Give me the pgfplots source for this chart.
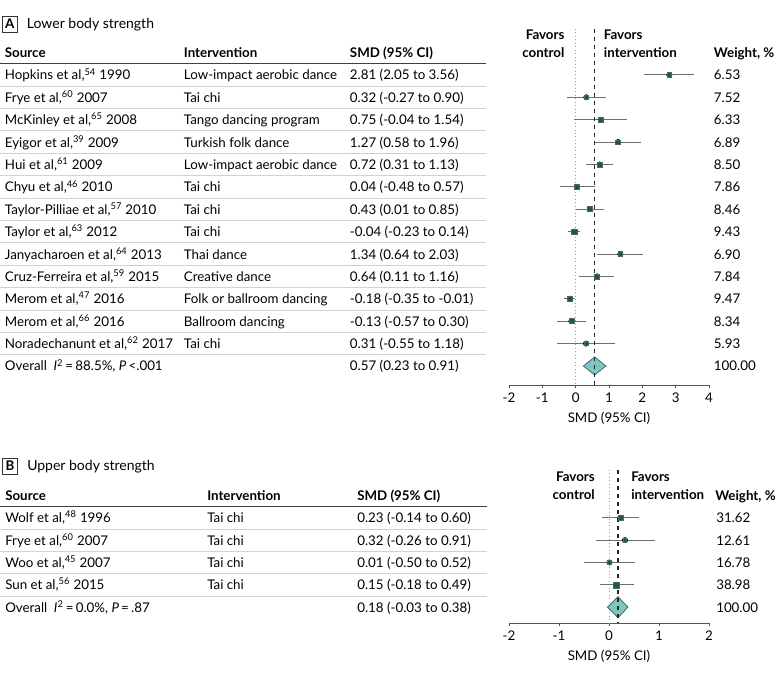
\documentclass[border=0pt]{standalone}
\usepackage{pgfplots}
\pgfplotsset{compat=1.18}
\usepackage{pgfplotstable}
\usepackage{fontspec}
\setmainfont{Lato}
\definecolor{mk}{HTML}{25524E}
\definecolor{dia}{HTML}{7EC4C1}
\definecolor{diaedge}{HTML}{2F5E5A}
\definecolor{sep}{HTML}{D2D2D2}
\definecolor{ci}{HTML}{6E6E6E}
\definecolor{axg}{HTML}{555555}
\newcommand{\tf}{\fontsize{10}{12}\selectfont}

% row (negative index), estimate, error plus, error minus, marker size (pt)
\pgfplotstableread{
row est ep em ms
-1 2.81 0.75 0.76 1.66
-2 0.32 0.58 0.59 1.78
-3 0.75 0.79 0.79 1.64
-4 1.27 0.69 0.69 1.71
-5 0.72 0.41 0.41 1.90
-6 0.04 0.53 0.52 1.82
-7 0.43 0.42 0.42 1.89
-8 -0.04 0.18 0.19 2.00
-9 1.34 0.69 0.70 1.71
-10 0.64 0.52 0.53 1.82
-11 -0.18 0.17 0.17 2.00
-12 -0.13 0.43 0.44 1.88
-13 0.31 0.87 0.86 1.58
}\dataA
\pgfplotstableread{
row est ep em ms
-1 0.23 0.37 0.37 2.02
-2 0.32 0.59 0.58 1.28
-3 0.01 0.51 0.51 1.47
-4 0.15 0.34 0.33 2.25
}\dataB

\pgfplotsset{
  forest/.style={
    scale only axis, anchor=south west, clip=false,
    axis y line=none, axis x line*=bottom,
    x axis line style={draw=axg, -, line width=0.6pt},
    xtick style={draw=axg, line width=0.6pt},
    tick align=outside, major tick length=2.4pt,
    tick label style={font=\tf},
    label style={font=\tf},
    xlabel={SMD (95\% CI)},
  },
  cibars/.style={only marks, mark=none, forget plot,
    error bars/.cd, x dir=both, x explicit,
    error bar style={draw=ci, line width=0.7pt, solid},
    error mark=none},
  sqmarks/.style={only marks, mark=square*, scatter,
    scatter/use mapped color={draw=mk!85!white, fill=mk},
    visualization depends on={\thisrow{ms} \as \msz},
    scatter/@pre marker code/.append style={/tikz/mark size=\msz pt},
    point meta=\thisrow{ms}},
}
\tikzset{
  tx/.style={anchor=west, inner sep=0pt, text height=7.5pt, text depth=0pt, font=\tf},
  hd/.style={tx, font=\tf\bfseries},
}

\begin{document}
\begin{tikzpicture}
\useasboundingbox (0pt,0pt) rectangle (585pt,-505.5pt);

% ---------------- Panel A ----------------
\begin{axis}[forest,
  at={(381.75pt,-288.75pt)}, width=150pt, height=267pt,
  xmin=-2, xmax=4, ymin=-14.85, ymax=1.05,
  xtick={-2,-1,0,1,2,3,4}, xticklabels={-2,-1,0,1,2,3,4},
]
\addplot[dotted, draw=gray!80, line width=0.6pt, forget plot] coordinates {(0,1.05) (0,-14.85)};
\addplot[cibars] table[x=est, y=row, x error plus=ep, x error minus=em] {\dataA};
\addplot[sqmarks] table[x=est, y=row] {\dataA};
\addplot[fill=dia, draw=diaedge, line width=0.5pt] coordinates {(0.23,-14) (0.57,-13.6) (0.91,-14) (0.57,-14.4)} -- cycle;
\addplot[dashed, draw=black!85, line width=0.8pt, forget plot] coordinates {(0.57,1.05) (0.57,-14.85)};

% panel title
\node[draw=black!80, line width=0.5pt, minimum width=11pt, minimum height=12pt, inner sep=0pt, font=\tf\bfseries] at (axis cs:-16.98,1.28) {A};
\node[tx, font=\fontsize{10.5}{12}\selectfont] at (axis cs:-16.47,1.28) {Lower body strength};

% favors
\node[anchor=east, align=right, inner sep=0pt, font=\fontsize{10}{13.5}\selectfont\bfseries] at (axis cs:-0.33,0.38) {Favors\\control};
\node[anchor=west, align=left, inner sep=0pt, font=\fontsize{10}{13.5}\selectfont\bfseries] at (axis cs:0.84,0.38) {Favors\\intervention};

% headers
\node[hd] at (axis cs:-17.13,0) {Source};
\node[hd] at (axis cs:-11.76,0) {Intervention};
\node[hd] at (axis cs:-6.78,0) {SMD (95\% CI)};
\node[hd] at (axis cs:4.14,0) {Weight, \%};

% separators
\draw[black!75, line width=0.9pt] (axis cs:-17.28,-0.5) -- (axis cs:-2.70,-0.5);
\pgfplotsinvokeforeach{1.5,2.5,3.5,4.5,5.5,6.5,7.5,8.5,9.5,10.5,11.5,12.5,13.5}{\draw[sep, line width=0.6pt] (axis cs:-17.28,-#1) -- (axis cs:-2.70,-#1);}

% rows
\node[tx] at (axis cs:-17.13,-1) {Hopkins et al,\textsuperscript{54} 1990};
\node[tx] at (axis cs:-17.13,-2) {Frye et al,\textsuperscript{60} 2007};
\node[tx] at (axis cs:-17.13,-3) {McKinley et al,\textsuperscript{65} 2008};
\node[tx] at (axis cs:-17.13,-4) {Eyigor et al,\textsuperscript{39} 2009};
\node[tx] at (axis cs:-17.13,-5) {Hui et al,\textsuperscript{61} 2009};
\node[tx] at (axis cs:-17.13,-6) {Chyu et al,\textsuperscript{46} 2010};
\node[tx] at (axis cs:-17.13,-7) {Taylor-Pilliae et al,\textsuperscript{57} 2010};
\node[tx] at (axis cs:-17.13,-8) {Taylor et al,\textsuperscript{63} 2012};
\node[tx] at (axis cs:-17.13,-9) {Janyacharoen et al,\textsuperscript{64} 2013};
\node[tx] at (axis cs:-17.13,-10) {Cruz-Ferreira et al,\textsuperscript{59} 2015};
\node[tx] at (axis cs:-17.13,-11) {Merom et al,\textsuperscript{47} 2016};
\node[tx] at (axis cs:-17.13,-12) {Merom et al,\textsuperscript{66} 2016};
\node[tx] at (axis cs:-17.13,-13) {Noradechanunt et al,\textsuperscript{62} 2017};
\node[tx] at (axis cs:-17.13,-14) {Overall\enspace\textit{I}\textsuperscript{2}\,=\,88.5\%, \textit{P}\,<.001};

\node[tx] at (axis cs:-11.76,-1) {Low-impact aerobic dance};
\node[tx] at (axis cs:-11.76,-2) {Tai chi};
\node[tx] at (axis cs:-11.76,-3) {Tango dancing program};
\node[tx] at (axis cs:-11.76,-4) {Turkish folk dance};
\node[tx] at (axis cs:-11.76,-5) {Low-impact aerobic dance};
\node[tx] at (axis cs:-11.76,-6) {Tai chi};
\node[tx] at (axis cs:-11.76,-7) {Tai chi};
\node[tx] at (axis cs:-11.76,-8) {Tai chi};
\node[tx] at (axis cs:-11.76,-9) {Thai dance};
\node[tx] at (axis cs:-11.76,-10) {Creative dance};
\node[tx] at (axis cs:-11.76,-11) {Folk or ballroom dancing};
\node[tx] at (axis cs:-11.76,-12) {Ballroom dancing};
\node[tx] at (axis cs:-11.76,-13) {Tai chi};

\node[tx] at (axis cs:-6.78,-1) {2.81 (2.05 to 3.56)};
\node[tx] at (axis cs:-6.78,-2) {0.32 (-0.27 to 0.90)};
\node[tx] at (axis cs:-6.78,-3) {0.75 (-0.04 to 1.54)};
\node[tx] at (axis cs:-6.78,-4) {1.27 (0.58 to 1.96)};
\node[tx] at (axis cs:-6.78,-5) {0.72 (0.31 to 1.13)};
\node[tx] at (axis cs:-6.78,-6) {0.04 (-0.48 to 0.57)};
\node[tx] at (axis cs:-6.78,-7) {0.43 (0.01 to 0.85)};
\node[tx] at (axis cs:-6.78,-8) {-0.04 (-0.23 to 0.14)};
\node[tx] at (axis cs:-6.78,-9) {1.34 (0.64 to 2.03)};
\node[tx] at (axis cs:-6.78,-10) {0.64 (0.11 to 1.16)};
\node[tx] at (axis cs:-6.78,-11) {-0.18 (-0.35 to -0.01)};
\node[tx] at (axis cs:-6.78,-12) {-0.13 (-0.57 to 0.30)};
\node[tx] at (axis cs:-6.78,-13) {0.31 (-0.55 to 1.18)};
\node[tx] at (axis cs:-6.78,-14) {0.57 (0.23 to 0.91)};

\node[tx] at (axis cs:4.14,-1) {6.53};
\node[tx] at (axis cs:4.14,-2) {7.52};
\node[tx] at (axis cs:4.14,-3) {6.33};
\node[tx] at (axis cs:4.14,-4) {6.89};
\node[tx] at (axis cs:4.14,-5) {8.50};
\node[tx] at (axis cs:4.14,-6) {7.86};
\node[tx] at (axis cs:4.14,-7) {8.46};
\node[tx] at (axis cs:4.14,-8) {9.43};
\node[tx] at (axis cs:4.14,-9) {6.90};
\node[tx] at (axis cs:4.14,-10) {7.84};
\node[tx] at (axis cs:4.14,-11) {9.47};
\node[tx] at (axis cs:4.14,-12) {8.34};
\node[tx] at (axis cs:4.14,-13) {5.93};
\node[tx] at (axis cs:4.14,-14) {100.00};
\end{axis}

% ---------------- Panel B ----------------
\begin{axis}[forest,
  at={(381.75pt,-467.25pt)}, width=150pt, height=114.75pt,
  xmin=-2, xmax=2, ymin=-5.71, ymax=1.14,
  xtick={-2,-1,0,1,2}, xticklabels={-2,-1,0,1,2},
]
\addplot[dotted, draw=gray!80, line width=0.6pt, forget plot] coordinates {(0,1.14) (0,-5.71)};
\addplot[cibars] table[x=est, y=row, x error plus=ep, x error minus=em] {\dataB};
\addplot[sqmarks] table[x=est, y=row] {\dataB};
\addplot[fill=dia, draw=diaedge, line width=0.5pt] coordinates {(-0.03,-5) (0.18,-4.53) (0.38,-5) (0.18,-5.47)} -- cycle;
\addplot[dashed, draw=black!85, line width=0.8pt, forget plot] coordinates {(0.18,1.14) (0.18,-5.71)};

\node[draw=black!80, line width=0.5pt, minimum width=11pt, minimum height=12pt, inner sep=0pt, font=\tf\bfseries] at (axis cs:-11.98,1.32) {B};
\node[tx, font=\fontsize{10.5}{12}\selectfont] at (axis cs:-11.64,1.32) {Upper body strength};

\node[anchor=east, align=right, inner sep=0pt, font=\fontsize{10}{13.5}\selectfont\bfseries] at (axis cs:-0.28,0.43) {Favors\\control};
\node[anchor=west, align=left, inner sep=0pt, font=\fontsize{10}{13.5}\selectfont\bfseries] at (axis cs:0.44,0.43) {Favors\\intervention};

\node[hd] at (axis cs:-12.08,0) {Source};
\node[hd] at (axis cs:-8.04,0) {Intervention};
\node[hd] at (axis cs:-5.04,0) {SMD (95\% CI)};
\node[hd] at (axis cs:2.12,0) {Weight, \%};

\draw[black!75, line width=0.9pt] (axis cs:-12.18,-0.5) -- (axis cs:-2.44,-0.5);
\pgfplotsinvokeforeach{1.5,2.5,3.5,4.5}{\draw[sep, line width=0.6pt] (axis cs:-12.18,-#1) -- (axis cs:-2.44,-#1);}

\node[tx] at (axis cs:-12.08,-1) {Wolf et al,\textsuperscript{48} 1996};
\node[tx] at (axis cs:-12.08,-2) {Frye et al,\textsuperscript{60} 2007};
\node[tx] at (axis cs:-12.08,-3) {Woo et al,\textsuperscript{45} 2007};
\node[tx] at (axis cs:-12.08,-4) {Sun et al,\textsuperscript{56} 2015};
\node[tx] at (axis cs:-12.08,-5) {Overall\enspace\textit{I}\textsuperscript{2}\,=\,0.0\%, \textit{P}\,=\,.87};

\node[tx] at (axis cs:-8.04,-1) {Tai chi};
\node[tx] at (axis cs:-8.04,-2) {Tai chi};
\node[tx] at (axis cs:-8.04,-3) {Tai chi};
\node[tx] at (axis cs:-8.04,-4) {Tai chi};

\node[tx] at (axis cs:-5.04,-1) {0.23 (-0.14 to 0.60)};
\node[tx] at (axis cs:-5.04,-2) {0.32 (-0.26 to 0.91)};
\node[tx] at (axis cs:-5.04,-3) {0.01 (-0.50 to 0.52)};
\node[tx] at (axis cs:-5.04,-4) {0.15 (-0.18 to 0.49)};
\node[tx] at (axis cs:-5.04,-5) {0.18 (-0.03 to 0.38)};

\node[tx] at (axis cs:2.14,-1) {31.62};
\node[tx] at (axis cs:2.14,-2) {12.61};
\node[tx] at (axis cs:2.14,-3) {16.78};
\node[tx] at (axis cs:2.14,-4) {38.98};
\node[tx] at (axis cs:2.14,-5) {100.00};
\end{axis}
\end{tikzpicture}
\end{document}
